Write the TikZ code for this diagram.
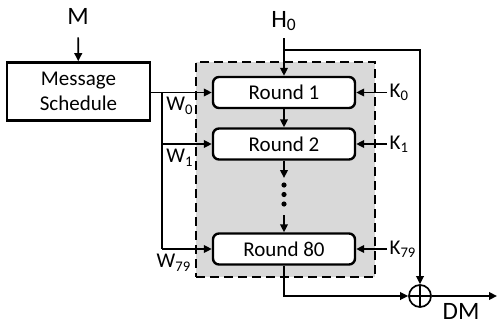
\documentclass[tikz,border=0pt]{standalone}
\usepackage{fontspec}
\setmainfont{Carlito}
\usetikzlibrary{arrows.meta, positioning}
\definecolor{BG}{RGB}{217,217,217}

\begin{document}
\begin{tikzpicture}[x=0.5pt, y=-0.5pt,
  sched/.style={draw, line width=1.3pt, minimum width=71.5pt, minimum height=29pt,
                align=center, inner sep=0pt, font=\fontsize{10.5}{12.5}\selectfont},
  rnd/.style={draw, line width=1.2pt, fill=white, rounded corners=3pt,
              minimum width=71pt, minimum height=15.5pt, inner sep=0pt,
              font=\fontsize{10.5}{12.5}\selectfont},
  core/.style={draw, fill=BG, line width=1.4pt, dash pattern=on 4.5pt off 2.5pt,
               minimum width=89.5pt, minimum height=107.5pt, inner sep=0pt},
  lbl/.style={inner sep=1pt, font=\fontsize{10.5}{12.5}\selectfont},
  big/.style={inner sep=0pt, font=\fontsize{12.5}{15}\selectfont},
  wire/.style={line width=0.85pt},
  arr/.style={wire, -{Triangle[length=4pt, width=3.8pt]}},
  xorop/.style={circle, draw, line width=0.85pt, minimum size=11pt, inner sep=0pt,
    path picture={\draw[line width=0.85pt]
      (path picture bounding box.north) -- (path picture bounding box.south)
      (path picture bounding box.west) -- (path picture bounding box.east);}}
]
\useasboundingbox (0,0) rectangle (498,327);

\node[core] (core) at (285.5,169.5) {};
\node[big] (m) at (78,16) {M};
\node[sched] (ms) at (78.5,91.5) {Message\\Schedule};
\node[big] (h0) at (284,21) {H\textsubscript{0}};
\node[rnd] (r1) at (284,92.5) {Round 1};
\node[rnd] (r2) at (284,144) {Round 2};
\node[rnd] (r80) at (284,249) {Round 80};
\node[xorop] (xor) at (420,296) {};
\node[big] (dm) at (461,311) {DM};

\node[lbl, right=15.5pt of r1] (k0) {K\textsubscript{0}};
\node[lbl, right=15.5pt of r2] (k1) {K\textsubscript{1}};
\node[lbl, right=15.5pt of r80] (k79) {K\textsubscript{79}};

\coordinate (hb) at (284,50);
\coordinate (bus) at (162,92.5);
\coordinate (b2) at (bus |- r2);
\coordinate (b80) at (bus |- r80);
\coordinate (d1) at (284,178);
\coordinate (d2) at (284,215);
\coordinate (out) at (497,296);

\node[lbl, below right=1.2pt and 1pt of bus] (w0) {W\textsubscript{0}};
\node[lbl, below right=1.5pt and 1pt of b2] (w1) {W\textsubscript{1}};
\node[lbl, below=1.5pt of b80, xshift=6pt] (w79) {W\textsubscript{79}};

\draw[arr, shorten <=6.5pt] (m) -- (ms);
\draw[arr, shorten <=3.5pt] (h0) -- (r1);
\draw[arr] (hb) -| (xor);
\draw[arr] (r1) -- (r2);
\draw[arr] (r2) -- (d1);
\draw[arr] (d2) -- (r80);
\fill (284,185) circle (1.3pt) (284,194.5) circle (1.3pt) (284,204) circle (1.3pt);
\draw[arr] (r80) |- (xor);
\draw[arr] (xor) -- (out);

\draw[arr] (ms.east |- r1) -- (r1);
\draw[wire] (bus) -- (b80);
\draw[arr] (b2) -- (r2);
\draw[arr] (b80) -- (r80);

\draw[arr] (k0) -- (r1);
\draw[arr] (k1) -- (r2);
\draw[arr] (k79) -- (r80);
\end{tikzpicture}
\end{document}
